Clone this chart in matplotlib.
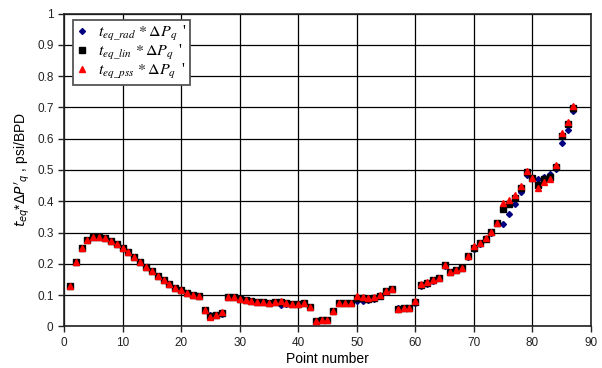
import matplotlib
matplotlib.use("Agg")
import matplotlib.pyplot as plt
import numpy as np

plt.rcParams['font.family'] = ['Liberation Sans', 'DejaVu Sans']
plt.rcParams['mathtext.fontset'] = 'stix'

point = list(range(1, 88))

pss = [0.130, 0.206, 0.250, 0.276, 0.285, 0.286, 0.283, 0.273, 0.264, 0.250,
       0.237, 0.221, 0.206, 0.191, 0.176, 0.161, 0.149, 0.135, 0.124, 0.116,
       0.108, 0.102, 0.097, 0.052, 0.031, 0.036, 0.046, 0.093, 0.093, 0.088,
       0.084, 0.080, 0.078, 0.077, 0.076, 0.079, 0.080, 0.075, 0.073, 0.071,
       0.074, 0.061, 0.018, 0.021, 0.022, 0.050, 0.076, 0.076, 0.076, 0.097,
       0.093, 0.092, 0.094, 0.100, 0.112, 0.119, 0.055, 0.059, 0.059, 0.081,
       0.135, 0.141, 0.149, 0.156, 0.196, 0.175, 0.180, 0.186, 0.225, 0.257,
       0.268, 0.282, 0.302, 0.332, 0.396, 0.404, 0.420, 0.449, 0.497, 0.474,
       0.441, 0.462, 0.472, 0.515, 0.617, 0.653, 0.705]

lin = [0.130, 0.206, 0.250, 0.276, 0.285, 0.286, 0.283, 0.273, 0.264, 0.250,
       0.237, 0.221, 0.206, 0.191, 0.176, 0.161, 0.149, 0.135, 0.124, 0.116,
       0.108, 0.102, 0.097, 0.052, 0.033, 0.036, 0.044, 0.093, 0.093, 0.088,
       0.084, 0.080, 0.078, 0.077, 0.076, 0.079, 0.077, 0.074, 0.073, 0.071,
       0.074, 0.061, 0.018, 0.021, 0.022, 0.050, 0.076, 0.076, 0.076, 0.090,
       0.090, 0.089, 0.092, 0.099, 0.112, 0.119, 0.057, 0.059, 0.059, 0.078,
       0.132, 0.140, 0.148, 0.156, 0.195, 0.175, 0.180, 0.186, 0.224, 0.252,
       0.266, 0.281, 0.301, 0.331, 0.374, 0.390, 0.410, 0.442, 0.493, 0.473,
       0.451, 0.470, 0.479, 0.511, 0.610, 0.646, 0.698]

rad = [0.130, 0.206, 0.250, 0.276, 0.285, 0.286, 0.283, 0.273, 0.264, 0.250,
       0.237, 0.221, 0.206, 0.191, 0.176, 0.161, 0.149, 0.135, 0.124, 0.116,
       0.108, 0.102, 0.097, 0.052, 0.037, 0.036, 0.041, 0.093, 0.093, 0.088,
       0.084, 0.080, 0.078, 0.077, 0.076, 0.078, 0.070, 0.071, 0.073, 0.071,
       0.074, 0.061, 0.018, 0.021, 0.022, 0.050, 0.076, 0.076, 0.076, 0.081,
       0.083, 0.086, 0.089, 0.097, 0.111, 0.119, 0.060, 0.059, 0.059, 0.074,
       0.128, 0.137, 0.146, 0.155, 0.193, 0.175, 0.180, 0.186, 0.222, 0.247,
       0.263, 0.279, 0.300, 0.330, 0.327, 0.358, 0.390, 0.430, 0.485, 0.473,
       0.470, 0.479, 0.487, 0.504, 0.585, 0.628, 0.689]

lab_rad = r"$t_{eq\_rad}$ $*\,\Delta P_{q}\,$ '"
lab_lin = r"$t_{eq\_lin}$ $*\,\Delta P_{q}\,$ '"
lab_pss = r"$t_{eq\_pss}$ $*\,\Delta P_{q}\,$ '"

fig = plt.figure(figsize=(6.02, 3.68), dpi=100)
ax = fig.add_axes([0.1063, 0.1128, 0.8754, 0.8505])

ax.plot(point, rad, linestyle='none', marker='D', markersize=3.0, color='#000080', label=lab_rad, zorder=3)
ax.plot(point, lin, linestyle='none', marker='s', markersize=4.0, color='black', label=lab_lin, zorder=4)
ax.plot(point, pss, linestyle='none', marker='^', markersize=4.6, color='#ff0000', label=lab_pss, zorder=5)

ax.set_xlim(0, 90)
ax.set_ylim(0, 1)
ax.set_xticks(np.arange(0, 91, 10))
ax.set_yticks(np.round(np.arange(0, 1.01, 0.1), 1))
ax.set_yticklabels(['0', '0.1', '0.2', '0.3', '0.4', '0.5', '0.6', '0.7', '0.8', '0.9', '1'])
ax.grid(True, color='black', linewidth=0.9, zorder=0)
ax.set_axisbelow(True)
for s in ax.spines.values():
    s.set_linewidth(1.2)
    s.set_color('#222222')
ax.tick_params(direction='out', length=4, width=1, labelsize=8.5, colors='#222222')

ax.set_xlabel('Point number', fontsize=10, labelpad=2)
ax.set_ylabel(r"$t_{eq}$*$\Delta P'_q$ , psi/BPD", fontsize=10, labelpad=4)
ax.yaxis.label.set_math_fontfamily('dejavusans')

leg = ax.legend(loc='upper left', bbox_to_anchor=(0.017, 0.979), borderaxespad=0,
                fancybox=False, shadow=False, framealpha=1, edgecolor='#555555',
                handlelength=0.6, handletextpad=0.7, labelspacing=0.0,
                borderpad=0.25,
                prop={'family': 'Liberation Serif', 'size': 11.5})
leg.get_frame().set_linewidth(1.3)

fig.savefig('out.png', dpi=100)
